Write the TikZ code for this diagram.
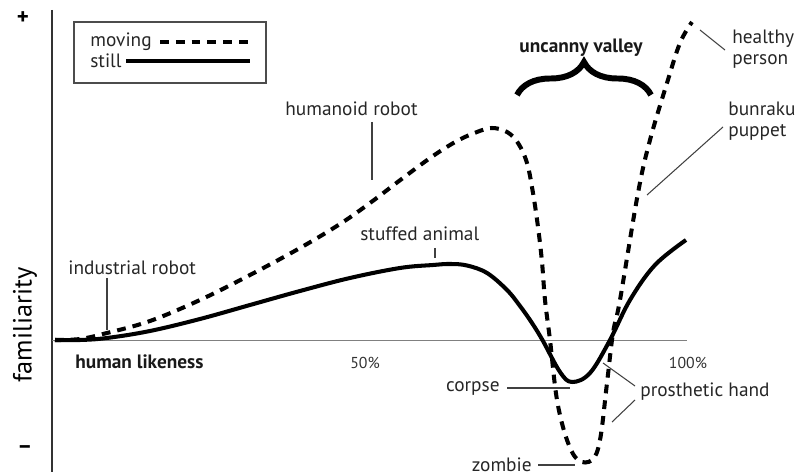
\documentclass[tikz,border=0pt]{standalone}
\usepackage{fontspec}
\setmainfont{PT Sans}
\usetikzlibrary{decorations.pathreplacing}
\begin{document}
\begin{tikzpicture}[x=0.02cm,y=-0.02cm,
  lbl/.style={font=\fontsize{11}{12}\selectfont, text=black!85, inner sep=0pt},
  blbl/.style={font=\fontsize{11}{12}\selectfont\bfseries, text=black!90, inner sep=0pt},
  small/.style={font=\fontsize{9}{10}\selectfont, text=black!80, inner sep=0pt},
  lead/.style={line width=0.6pt, black!75},
  still/.style={line width=2.3pt, line join=round},
  moving/.style={line width=2.3pt, dash pattern=on 5pt off 4pt}]
\useasboundingbox (0,0) rectangle (798,475);
% axes
\draw[line width=1.1pt, black!80] (52,10) -- (52,472);
\draw[line width=1.1pt, black!50] (52,340.5) -- (687,340.5);
\node[font=\fontsize{13}{14}\selectfont\bfseries, inner sep=0pt] (plus) at (23,18) {+};
\node[font=\fontsize{13}{14}\selectfont\bfseries, inner sep=0pt] (minus) at (25,450) {–};
\node[font=\fontsize{15}{16}\selectfont, rotate=90, inner sep=0pt] (fam) at (25,325) {familiarity};
\node[blbl, anchor=west] (hl) at (75,362) {human likeness};
\node[small] (p50) at (365,363) {50\%};
\node[small] (p100) at (688,363) {100\%};
% legend
\draw[line width=0.8pt, black!70] (74,22) rectangle (266,83);
\node[lbl, anchor=west] (mov) at (90,42) {moving};
\node[lbl, anchor=west] (sti) at (90,61) {still};
\coordinate (mova) at (160,42); \coordinate (movb) at (250,42);
\coordinate (stia) at (126,61); \coordinate (stib) at (250,61);
\draw[moving] (mova) -- (movb);
\draw[still] (stia) -- (stib);
% curves
\draw[still] plot[smooth, tension=0.6] coordinates {(55,340) (80,340) (107,338) (150,331) (200,319) (250,305) (300,291) (350,278) (400,268) (433,265) (450,264) (467,265.5) (487,273) (507,290) (520,306) (532,323) (543,341) (560,372) (572,382) (590,373) (610,340) (630,300) (655,265) (686,240)};
\draw[moving] plot[smooth, tension=0.6] coordinates {(55,340) (80,339) (107,333) (150,321) (200,300) (250,275) (300,248) (340,224) (370,203) (403,178) (433,156) (457,141) (477,132) (492,128) (507,132) (518,143) (527,163) (533,193) (538,227) (542,262) (545,300) (550,340) (557,400) (567,440) (578,460) (592,460) (600,440) (607,383) (613,333) (620,300) (638,193) (650,140) (667,83) (680,43) (692,22)};
% uncanny valley
\node[blbl] (uv) at (581,48) {uncanny valley};
\coordinate (bra) at (517,95); \coordinate (brb) at (651,95);
\draw[line width=3.4pt, decorate, decoration={brace, amplitude=6.6mm}] (bra) -- (brb);
% labels
\node[lbl, anchor=west] (ind) at (68,268) {industrial robot};
\coordinate (indtop) at (107,278); \coordinate (indpt) at (107,330);
\draw[lead] (indtop) -- (indpt);
\node[lbl, anchor=west] (hum) at (285,109) {humanoid robot};
\coordinate (humtop) at (372,122); \coordinate (humpt) at (372,180);
\draw[lead] (humtop) -- (humpt);
\node[lbl, anchor=west] (stu) at (360,234) {stuffed animal};
\coordinate (stutop) at (435,248); \coordinate (stupt) at (435,258);
\draw[lead] (stutop) -- (stupt);
\node[lbl, anchor=west, align=left] (hp) at (732,49) {healthy\\person};
\coordinate (hpa) at (725,50); \coordinate (hpb) at (700,30);
\draw[lead] (hpa) -- (hpb);
\node[lbl, anchor=west, align=left] (bp) at (728,121) {bunraku\\puppet};
\coordinate (bpa) at (723,127); \coordinate (bpb) at (647,195);
\draw[lead] (bpa) -- (bpb);
\node[lbl, anchor=east] (cor) at (500,388) {corpse};
\coordinate (cora) at (507,388); \coordinate (corb) at (570,388);
\draw[lead] (cora) -- (corb);
\node[lbl, anchor=west] (pro) at (640,392) {prosthetic hand};
\coordinate (proa) at (635,386); \coordinate (prob) at (603,363);
\coordinate (proc) at (635,400); \coordinate (prod) at (612,422);
\draw[lead] (proa) -- (prob);
\draw[lead] (proc) -- (prod);
\node[lbl, anchor=east] (zom) at (532,465) {zombie};
\coordinate (zoma) at (538,465); \coordinate (zomb) at (575,465);
\draw[lead] (zoma) -- (zomb);
\end{tikzpicture}
\end{document}
